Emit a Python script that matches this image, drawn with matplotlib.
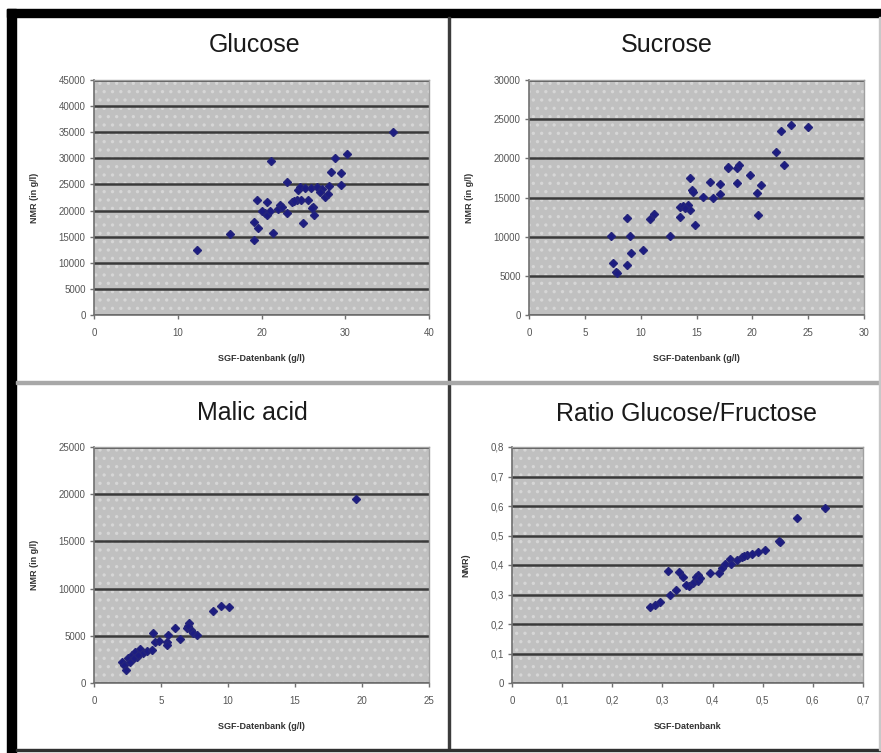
import matplotlib
matplotlib.use("Agg")
import matplotlib.pyplot as plt
from matplotlib.patches import Rectangle

plt.rcParams['font.family'] = ['Liberation Sans', 'DejaVu Sans']
plt.rcParams['hatch.linewidth'] = 1.2

# ---- data ----
glucose_x = [12.3, 16.2, 19.1, 19.1, 19.6, 19.5, 20.7, 20.4, 20.7, 21.1, 21.4, 22.2, 22.0,
             23.1, 23.1, 23.6, 24.2, 24.4, 24.6, 24.9, 25.6, 25.9, 26.2, 26.3, 26.6, 27.2,
             27.6, 27.9, 28.1, 28.3, 28.8, 29.5, 29.5, 30.2, 35.7, 21.0, 23.9, 24.7, 26.0,
             25.2, 27.0, 20.1, 22.4]
glucose_y = [12450, 15450, 14360, 17870, 16600, 22020, 21700, 19590, 19150, 29550, 15760, 21060, 20240,
             25530, 19470, 21700, 22020, 23940, 24450, 17560, 22020, 24260, 20740, 19150, 24450, 24070,
             22660, 23170, 24760, 27440, 30000, 27250, 24890, 30830, 34990, 20000, 21900, 22100, 20420,
             24300, 23500, 19900, 20700]

sucrose_x = [7.3, 7.5, 7.8, 7.9, 8.75, 8.8, 9.0, 9.1, 10.2, 10.8, 11.2, 12.6, 13.5, 13.5,
             13.8, 14.2, 14.4, 14.4, 14.6, 14.7, 14.9, 15.6, 16.2, 16.5, 17.1, 17.1, 17.85,
             18.6, 18.8, 18.6, 19.8, 20.4, 20.75, 20.5, 22.1, 22.6, 22.8, 23.5, 25.0, 14.0, 17.8]
sucrose_y = [10085, 6600, 5530, 5400, 12340, 6380, 10085, 7950, 8300, 12210, 12890, 10085, 13830, 12550,
             13910, 14040, 13400, 17530, 15960, 15740, 11490, 15020, 17020, 14980, 16720, 15450, 18720,
             18720, 19150, 16810, 17870, 15620, 16600, 12770, 20850, 23490, 19150, 24260, 23960, 13600, 18900]

malic_x = [19.55, 8.9, 9.45, 10.05, 2.07, 2.24, 2.39, 2.56, 2.81, 3.06, 3.19, 3.43, 3.68, 3.93,
           4.31, 4.38, 4.55, 4.87, 5.42, 5.55, 6.04, 6.42, 6.96, 7.11, 7.22, 7.41, 7.66, 5.42,
           2.68, 2.98, 3.3, 7.0]
malic_y = [19490, 7660, 8190, 8080, 2260, 1910, 1380, 2620, 2970, 3320, 2790, 3570, 3150, 3420,
           3500, 5330, 4380, 4450, 4380, 5080, 5860, 4630, 5790, 6320, 5610, 5330, 5080, 4030,
           2260, 2700, 3000, 6000]

ratio_x = [0.624, 0.569, 0.533, 0.535, 0.505, 0.491, 0.478, 0.468, 0.458, 0.448, 0.435, 0.436,
           0.418, 0.413, 0.394, 0.371, 0.368, 0.366, 0.361, 0.353, 0.348, 0.334, 0.341, 0.312,
           0.328, 0.315, 0.295, 0.285, 0.275, 0.371, 0.375, 0.425, 0.462]
ratio_y = [0.592, 0.560, 0.481, 0.478, 0.451, 0.445, 0.437, 0.434, 0.428, 0.417, 0.419, 0.403,
           0.389, 0.374, 0.372, 0.366, 0.349, 0.360, 0.338, 0.329, 0.332, 0.377, 0.360, 0.381,
           0.315, 0.298, 0.276, 0.264, 0.257, 0.345, 0.355, 0.405, 0.432]

titles = ["Glucose", "Sucrose", "Malic acid", "Ratio Glucose/Fructose"]
xlabels = ["SGF-Datenbank (g/l)", "SGF-Datenbank (g/l)", "SGF-Datenbank (g/l)", "SGF-Datenbank"]
ylabels = ["NMR (in g/l)", "NMR (in g/l)", "NMR (in g/l)", "NMR)"]

glucose_xticks = [0, 10, 20, 30, 40]
glucose_yticks = [0, 5000, 10000, 15000, 20000, 25000, 30000, 35000, 40000, 45000]
sucrose_xticks = [0, 5, 10, 15, 20, 25, 30]
sucrose_yticks = [0, 5000, 10000, 15000, 20000, 25000, 30000]
malic_xticks = [0, 5, 10, 15, 20, 25]
malic_yticks = [0, 5000, 10000, 15000, 20000, 25000]
ratio_xticks = [0, 0.1, 0.2, 0.3, 0.4, 0.5, 0.6, 0.7]
ratio_yticks = [0, 0.1, 0.2, 0.3, 0.4, 0.5, 0.6, 0.7, 0.8]
ratio_xticklabels = ["0", "0,1", "0,2", "0,3", "0,4", "0,5", "0,6", "0,7"]
ratio_yticklabels = ["0", "0,1", "0,2", "0,3", "0,4", "0,5", "0,6", "0,7", "0,8"]

W, H = 881, 753
fig = plt.figure(figsize=(W / 100, H / 100), dpi=100)
fig.patch.set_facecolor("white")


def box(l, t, r, b):
    return [l / W, 1 - b / H, (r - l) / W, (b - t) / H]


def frame(l, t, r, b, color):
    fig.patches.append(Rectangle((l / W, 1 - b / H), (r - l) / W, (b - t) / H,
                                 transform=fig.transFigure, color=color, zorder=0))


# panel frame lines
frame(7, 9, 881, 17, "black")
frame(7, 9, 16, 753, "black")
frame(448, 17, 450, 750, "#3c3c3c")
frame(16, 381, 881, 384, "#a8a8a8")
frame(16, 749, 881, 751, "#303030")
frame(879, 17, 881, 750, "#c8c8c8")

panels = [
    (box(94, 80, 429, 315), glucose_x, glucose_y, glucose_xticks, glucose_yticks, None, None, 40, 45000),
    (box(529, 80, 864, 315), sucrose_x, sucrose_y, sucrose_xticks, sucrose_yticks, None, None, 30, 30000),
    (box(94, 447, 429, 683), malic_x, malic_y, malic_xticks, malic_yticks, None, None, 25, 25000),
    (box(512, 447, 863, 683), ratio_x, ratio_y, ratio_xticks, ratio_yticks,
     ratio_xticklabels, ratio_yticklabels, 0.7, 0.8),
]

for i, (pos, xs, ys, xt, yt, xtl, ytl, xmax, ymax) in enumerate(panels):
    ax = fig.add_axes(pos)
    ax.set_facecolor("#c0c0c0")
    ax.add_patch(Rectangle((0, 0), 1, 1, transform=ax.transAxes, facecolor="none",
                           edgecolor="#d6d6d6", hatch="..", linewidth=0, zorder=0))
    ax.set_xlim(0, xmax)
    ax.set_ylim(0, ymax)
    ax.set_xticks(xt)
    ax.set_yticks(yt)
    if xtl:
        ax.set_xticklabels(xtl)
        ax.set_yticklabels(ytl)
    ax.grid(axis="y", color="#3a3a3a", linewidth=1.8, zorder=1)
    ax.set_axisbelow(True)
    for s in ["top", "right"]:
        ax.spines[s].set_color("#a0a0a0")
        ax.spines[s].set_linewidth(1.0)
    for s in ["left", "bottom"]:
        ax.spines[s].set_color("#707070")
        ax.spines[s].set_linewidth(1.2)
    ax.tick_params(direction="out", length=3, width=1, color="#707070",
                   labelsize=7, labelcolor="#555555", pad=3)
    ax.tick_params(axis="x", pad=6)
    ax.plot(xs, ys, linestyle="none", marker="D", markersize=4.0,
            color="#1c1c82", markeredgecolor="#24247a", zorder=3)
    ax.set_xlabel(xlabels[i], fontsize=6.5, fontweight="bold", color="#333333", labelpad=12)
    ax.set_ylabel(ylabels[i], fontsize=6.5, fontweight="bold", color="#333333", labelpad=14)

fig.text(255 / W, 1 - 45 / H, titles[0], fontsize=18, ha="center", va="center", color="#1a1a1a")
fig.text(667 / W, 1 - 45 / H, titles[1], fontsize=18, ha="center", va="center", color="#1a1a1a")
fig.text(252 / W, 1 - 413 / H, titles[2], fontsize=18, ha="center", va="center", color="#1a1a1a")
fig.text(686 / W, 1 - 414 / H, titles[3], fontsize=18, ha="center", va="center", color="#1a1a1a")

fig.savefig("out.png", dpi=100)
